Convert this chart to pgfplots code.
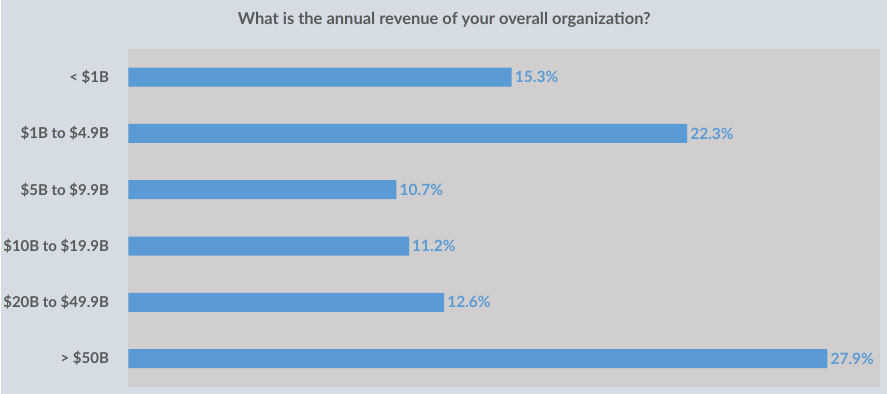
\documentclass[border=0pt]{standalone}
\usepackage{pgfplots}
\pgfplotsset{compat=1.18}
\usepackage{fontspec}
\setmainfont{Lato}
\definecolor{bgblue}{HTML}{D6DCE4}
\definecolor{plotgray}{HTML}{D0CECE}
\definecolor{barblue}{HTML}{5B9BD5}
\definecolor{txtgray}{HTML}{595959}
\begin{document}
\begin{tikzpicture}[x=1pt,y=1pt]
\fill[bgblue] (0,0) rectangle (887,394);
\node[font=\fontsize{16.5}{18}\selectfont\bfseries, text=txtgray] at (444,374) {What is the annual revenue of your overall organization?};
\begin{axis}[
  at={(128pt,7pt)}, anchor=south west,
  scale only axis, width=752pt, height=338pt,
  xmin=0, xmax=30, ymin=-0.5, ymax=5.5,
  y dir=reverse,
  xbar, bar width=19pt,
  axis line style={draw=none},
  axis background/.style={fill=plotgray},
  xtick=\empty,
  ytick={0,1,2,3,4,5},
  yticklabels={{< \$1B},{\$1B to \$4.9B},{\$5B to \$9.9B},{\$10B to \$19.9B},{\$20B to \$49.9B},{> \$50B}},
  major tick length=0pt,
  yticklabel style={font=\fontsize{15}{17}\selectfont\bfseries, text=txtgray, anchor=east, xshift=-16pt},
  /pgf/number format/assume math mode=true,
  point meta=x,
  nodes near coords={\pgfmathprintnumber[fixed,precision=1,fixed zerofill]{\pgfplotspointmeta}\%},
  nodes near coords style={font=\fontsize{15.5}{17}\selectfont\bfseries, text=barblue, anchor=west, inner sep=2pt, xshift=1pt},
]
\addplot[fill=barblue, draw=none] coordinates {(15.3,0) (22.3,1) (10.7,2) (11.2,3) (12.6,4) (27.9,5)};
\end{axis}
\end{tikzpicture}
\end{document}
